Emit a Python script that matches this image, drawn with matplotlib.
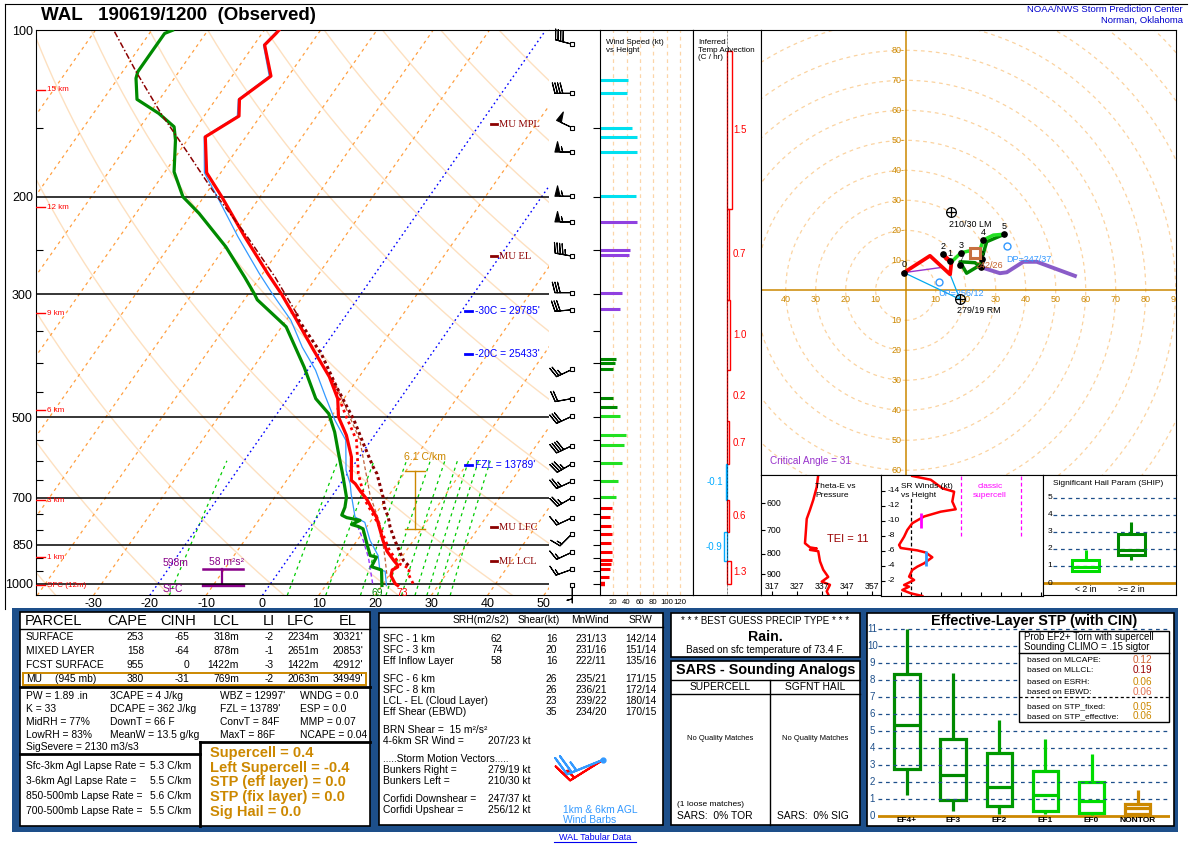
#!/usr/bin/env python
import numpy as np
import matplotlib
matplotlib.use("Agg")
import matplotlib.pyplot as plt
from matplotlib.patches import Rectangle, Circle
from matplotlib.ticker import FixedLocator, NullFormatter
from matplotlib.transforms import blended_transform_factory

plt.rcParams['font.family'] = ['Liberation Sans', 'DejaVu Sans']
plt.rcParams['axes.unicode_minus'] = False

# --- Layout (pixels of the 1192x846 picture) ---
W, H = 1192, 846
SK_X0, SK_X1, SK_Y0, SK_Y1 = 35.6, 549.0, 30.3, 595.3
P_BOT, P_TOP = 1050.0, 100.0
SKEW = 29.9            # deg C of skew per ln(p)
T_LEFT, T_RIGHT = -40.3, 50.9

RED = '#ff0000'
DGREEN = '#008a00'
LIME = '#22e022'
MAROON = '#8b0000'
GOLD = '#cc8800'
PURPLE = '#880088'
VIOLET = '#9040e0'
CYAN = '#00e0f0'
LBLUE = '#3399ff'
NAVY = '#1d4f8a'

# --- Sounding profiles ---
P_TEMP = [100, 101.3, 106.3, 121, 133.3, 142.9, 155.8, 180.9, 200, 236, 275.2, 299.2, 329.6,
          378.7, 423, 463.2, 499.7, 539.5, 590.6, 651, 660, 682.7, 703, 758, 836, 873.5, 910,
          925, 933, 945, 968, 1000, 1008]
TEMP = [-67.4, -67.5, -68.1, -63.1, -65.8, -63.8, -67.2, -62.5, -56.8, -47.8, -39.1, -34.2, -28.9,
        -21.4, -15.3, -11.1, -8.7, -5.0, -1.4, 1.5, 2.6, 4.6, 6.5, 10.5, 14.6, 16.6, 19.1,
        20.2, 20.5, 19.9, 20.4, 22.1, 22.8]

P_DWPT = [100, 101.3, 118.8, 122.1, 133.3, 141.3, 149.4, 157.9, 180.2, 200, 214.2, 246.1, 279.1,
          299.2, 306.9, 334, 343.5, 406.1, 463.2, 493.3, 532.1, 582.4, 633.1, 697.7, 728, 752,
          760, 768.6, 782, 788.7, 796.3, 852.7, 890, 895.8, 932, 945, 1008]
DWPT = [-86.3, -87.3, -87.3, -86.8, -84.0, -78.4, -74.0, -72.1, -68.4, -63.7, -58.8, -49.9, -42.8,
        -39.0, -37.7, -31.3, -29.2, -21.0, -15.0, -10.8, -7.5, -4.1, -0.9, 2.7, 3.7, 4.1,
        5.3, 8.0, 7.0, 8.5, 9.6, 12.4, 14.2, 15.5, 15.8, 18.0, 20.0]

P_WETB = [100, 106.3, 121, 133.3, 142.9, 155.8, 180.9, 200, 236, 275.2, 299.2, 334.1, 373.9,
          411.3, 459.6, 506.9, 550.6, 624.3, 660, 687.8, 758, 775, 836, 890, 945, 950, 1008]
WETB = [-67.6, -68.3, -63.4, -66.0, -64.1, -67.4, -62.9, -57.6, -49.0, -40.6, -35.8, -29.2, -23.8,
        -18.6, -13.5, -8.9, -4.5, -0.7, 1.7, 3.1, 6.7, 9.1, 12.3, 15.6, 17.7, 18.8, 20.8]

P_MU = [100.6, 118.8, 141.3, 166.9, 194.5, 233, 279.1, 325, 334.1, 384.3, 441.7, 506.9, 557.9,
        615.6, 633, 697.7, 728, 758, 790.8, 836, 858.4, 909.9, 932]
T_MU = [-96.4, -87.6, -78.0, -68.2, -59.3, -48.1, -37.4, -29.0, -27.8, -19.6, -12.7, -5.5, -1.0,
        3.7, 5.2, 9.2, 10.7, 12.6, 14.2, 16.7, 18.0, 20.8, 22.6]

P_SBPCL = [1000, 960, 938.5, 922, 873.5, 790.8, 707, 633, 550.6, 499.7, 459.6, 423]
T_SBPCL = [25.3, 23.2, 22.8, 20.5, 17.1, 12.4, 6.4, 1.9, -2.6, -7.3, -11.2, -15.0]

P_VPCL = [960, 895.8, 780, 693, 550.6, 432.4]
T_VPCL = [19.4, 17.0, 12.0, 6.7, -2.0, -13.7]

P_DCAPE = [766, 836, 899, 1008]
T_DCAPE = [7.0, 11.1, 14.2, 18.4]

MIX_RATIOS = [1, 5, 8, 12, 16, 19, 22, 25, 28, 32]

HGT_LBL = ['15 km', '12 km', '9 km', '6 km', '3 km', '1 km', 'SFC (12m)']
HGT_P = [128.2, 208.7, 324.5, 485.9, 706.7, 895.8, 1008]

LVL_LBL = ['MU MPL', 'MU EL', 'MU LFC', 'ML LCL']
LVL_P = [147.7, 256, 791, 911]
ISO_LBL = ["-30C = 29785'", "-20C = 25433'", "FZL = 13789'"]
ISO_P = [321, 385, 611]

# --- Wind barbs ---
BARB_P = [106, 130, 150, 166, 199.5, 222, 256, 298, 320, 410, 463, 498, 563, 607, 653, 699,
          760, 812, 877, 942, 1008]
BARB_DIR = [285, 270, 295, 270, 270, 270, 280, 270, 265, 245, 260, 245, 245, 240, 245, 240,
            245, 225, 245, 250, 180]
BARB_KT = [40, 40, 50, 55, 55, 55, 45, 32, 30, 23, 19, 29, 38, 33, 27, 24, 17, 17, 17, 14, 5]

# --- Wind speed vs height ---
WS_P = [123, 130, 150, 156, 166, 199, 222, 249, 255, 298, 319, 392, 399, 409, 461, 479, 497,
        538, 561, 605, 652, 697, 730, 758, 787, 813, 846, 877, 908, 922, 941, 972, 1000]
WS_KT = [42, 40, 47.5, 55, 55, 53.5, 55, 44.5, 43, 32.5, 29.5, 23.5, 22, 19, 19, 25, 29.5,
         38.5, 35.5, 32.5, 26.5, 23.5, 17.5, 14.5, 16, 17.5, 16, 17.5, 17.5, 16, 14.5, 13, 7]

# --- Inferred temperature advection ---
ADV_PTOP = [109, 210, 307, 411, 509, 608, 707, 807, 911]
ADV_PBOT = [210, 307, 411, 509, 608, 707, 807, 911, 1000]
ADV_VAL = [1.5, 0.7, 1.0, 0.2, 0.7, -0.1, 0.6, -0.9, 1.3]

# --- Hodograph (kt) ---
HODO_03_U = [-0.6, 8.1, 14.8, 15.2, 14.8, 12.3, 13.5, 15.2]
HODO_03_V = [5.9, 11.5, 5.3, 8.9, 9.8, 12.1, 10.5, 9.4]
HODO_36_U = [15.2, 18.4, 22.4, 24.8, 25.9, 29.2, 32.9]
HODO_36_V = [9.4, 12.5, 13.4, 13.7, 16.8, 18.4, 18.7]
HODO_69_U = [32.9, 27.0, 25.3, 24.8, 20.3, 18.1, 23.1, 25.1]
HODO_69_V = [18.7, 16.2, 10.3, 8.4, 5.7, 9.5, 9.2, 7.7]
HODO_912_U = [25.1, 31.4, 33.7, 39.2, 43.7, 56.4]
HODO_912_V = [7.7, 5.7, 6.0, 9.5, 9.5, 4.8]
HODO_DOT_U = [-0.6, 14.8, 12.3, 18.4, 25.9, 32.9, 25.3, 18.1, 25.1]
HODO_DOT_V = [5.9, 9.8, 12.1, 12.5, 16.8, 18.7, 10.3, 8.5, 7.7]
HODO_DOT_LBL = ['0', '1', '2', '3', '4', '5', '6', '7', '8']
RM_UV = (18.1, -3.0)
LM_UV = (15.1, 26.0)
DP_UV = (33.7, 14.8)
UP_UV = (11.2, 2.9)
MEAN_UV = (23.1, 12.3)
INFLOW_TOP_UV = (14.8, 5.3)
SHEAR500_UV = (12.5, 7.7)

# --- Theta-E vs pressure ---
P_THE = [510.7, 547, 589, 623, 656, 698, 754, 772, 777, 783, 789, 836, 877, 914, 939, 956, 992, 1010]
THETAE = [335.6, 335.0, 333.6, 332.3, 331.0, 330.7, 330.3, 332.3, 335.0, 332.3, 335.6, 336.3,
          337.6, 339.6, 337.0, 340.3, 339.0, 339.6]

# --- Storm-relative winds vs height ---
SR_KM = [0, 0.36, 0.8, 1.24, 1.47, 2.13, 2.58, 3.47, 3.91, 4.36, 5.16, 5.8, 6.08, 6.4, 6.8, 7.9,
         8.8, 9.7, 10.6, 11.24, 11.56, 12.6, 13.9, 14.36, 15.5, 16.0]
SR_KT = [20.8, 15, 10.8, 14.2, 11.7, 16.7, 14.2, 15.8, 18.3, 21.7, 25.8, 22.5, 18.3, 10, 9.2, 11.7,
         13.3, 15.8, 21.7, 30, 37.5, 35.8, 36.7, 30.8, 25, 15.8]

# --- SHIP box plots (min, q1, median, q3, max) ---
SHIP_CATS = ['< 2 in', '>= 2 in']
SHIP_BOX = [[0.71, 0.71, 0.96, 1.38, 1.96], [1.38, 1.67, 1.93, 2.9, 3.59]]

# --- Effective-layer STP box plots ---
STP_CATS = ['EF4+', 'EF3', 'EF2', 'EF1', 'EF0', 'NONTOR']
STP_BOX = [[1.27, 2.78, 5.38, 8.36, 11.0],
           [0.29, 0.98, 2.45, 4.56, 8.41],
           [0.16, 0.63, 1.72, 3.72, 5.64],
           [0.16, 0.33, 1.27, 2.68, 4.54],
           [0.10, 0.20, 0.88, 2.02, 3.68],
           [0.00, 0.16, 0.49, 0.74, 1.57]]
STP_COLORS = ['#008a00', '#008a00', '#009a00', '#00cc00', '#00dd00', GOLD]

# --- Parcel table ---
PCL_NAMES = ['SURFACE', 'MIXED LAYER', 'FCST SURFACE', 'MU']
PCL_CAPE = [253, 158, 955, 380]
PCL_CINH = [-65, -64, 0, -31]
PCL_LCL = ['318m', '878m', '1422m', '769m']
PCL_LI = [-2, -1, -3, -2]
PCL_LFC = ['2234m', '2651m', '1422m', '2063m']
PCL_EL = ["30321'", "20853'", "42912'", "34949'"]

IDX_COL1 = ['PW = 1.89 .in', 'K = 33', 'MidRH = 77%', 'LowRH = 83%', 'SigSevere = 2130 m3/s3']
IDX_COL2 = ['3CAPE = 4 J/kg', 'DCAPE = 362 J/kg', 'DownT = 66 F', 'MeanW = 13.5 g/kg']
IDX_COL3 = ["WBZ = 12997'", "FZL = 13789'", 'ConvT = 84F', 'MaxT = 86F']
IDX_COL4 = ['WNDG = 0.0', 'ESP = 0.0', 'MMP = 0.07', 'NCAPE = 0.04']
LAPSE_LBL = ['Sfc-3km Agl Lapse Rate =', '3-6km Agl Lapse Rate =',
             '850-500mb Lapse Rate =', '700-500mb Lapse Rate =']
LAPSE_VAL = ['5.3 C/km', '5.5 C/km', '5.6 C/km', '5.5 C/km']
COMPOSITES = ['Supercell = 0.4', 'Left Supercell = -0.4', 'STP (eff layer) = 0.0',
              'STP (fix layer) = 0.0', 'Sig Hail = 0.0']

KIN_LBL = ['SFC - 1 km', 'SFC - 3 km', 'Eff Inflow Layer', 'SFC - 6 km', 'SFC - 8 km',
           'LCL - EL (Cloud Layer)', 'Eff Shear (EBWD)']
KIN_SRH = ['62', '74', '58', '', '', '', '']
KIN_SHEAR = ['16', '20', '16', '26', '26', '23', '35']
KIN_MNW = ['231/13', '231/16', '222/11', '235/21', '236/21', '239/22', '234/20']
KIN_SRW = ['142/14', '151/14', '135/16', '171/15', '172/14', '180/14', '170/15']
MOTION_LBL = ['Bunkers Right =', 'Bunkers Left =', 'Corfidi Downshear =', 'Corfidi Upshear =']
MOTION_VAL = ['279/19 kt', '210/30 kt', '247/37 kt', '256/12 kt']
ICON_DIR = [238, 248]        # 1 km and 6 km AGL winds
ICON_KT = [15, 25]

STP_PROB_LBL = ['based on MLCAPE:', 'based on MLLCL:', 'based on ESRH:', 'based on EBWD:',
                'based on STP_fixed:', 'based on STP_effective:']
STP_PROB_VAL = ['0.12', '0.19', '0.06', '0.06', '0.05', '0.06']
STP_PROB_COL = ['#d06030', '#990000', GOLD, '#e07050', GOLD, GOLD]


def skx(t, p):
    return np.asarray(t, float) + SKEW * np.log(P_BOT / np.asarray(p, float))


def hcolor(p):
    if p >= HGT_P[4]:
        return RED
    if p >= HGT_P[3]:
        return LIME
    if p >= HGT_P[2]:
        return DGREEN
    if p >= HGT_P[1]:
        return VIOLET
    return CYAN


def uv(direction, speed):
    d = np.radians(np.asarray(direction, float))
    s = np.asarray(speed, float)
    return -s * np.sin(d), -s * np.cos(d)


fig = plt.figure(figsize=(W / 100, H / 100), dpi=100)


def px_axes(x0, y0, x1, y1, **kw):
    return fig.add_axes([x0 / W, 1 - y1 / H, (x1 - x0) / W, (y1 - y0) / H], **kw)


def pix_overlay():
    a = fig.add_axes([0, 0, 1, 1])
    a.set_xlim(0, W)
    a.set_ylim(H, 0)
    a.axis('off')
    return a


def log_p(a):
    a.set_yscale('log')
    a.set_ylim(P_BOT, P_TOP)
    a.yaxis.set_major_locator(FixedLocator([]))
    a.yaxis.set_minor_locator(FixedLocator([]))
    a.yaxis.set_minor_formatter(NullFormatter())


# ================= background: frames and tables =================
bg = pix_overlay()
bg.plot([4.6, 1187], [4.5, 4.5], color='k', lw=0.8)
bg.plot([4.6, 4.6], [4.5, 609], color='k', lw=0.8)
bg.text(41, 16, 'WAL   190619/1200  (Observed)', fontsize=13.5, fontweight='bold', va='center')
bg.text(1183, 9, 'NOAA/NWS Storm Prediction Center', color='#0000cc', fontsize=6.8, ha='right', va='center')
bg.text(1183, 20, 'Norman, Oklahoma', color='#0000cc', fontsize=6.8, ha='right', va='center')

bg.add_patch(Rectangle((12, 608), 1166, 224, facecolor=NAVY, edgecolor='none'))
for (x0, y0, x1, y1) in [(20, 612, 370, 826), (379, 613, 663.3, 825.3), (671, 613, 860, 657.3),
                         (671, 660.7, 860, 825.3), (867, 613, 1173.7, 826)]:
    bg.add_patch(Rectangle((x0, y0), x1 - x0, y1 - y0, facecolor='white', edgecolor='k', lw=1.2))

# parcel table
hdr_kw = dict(fontsize=10.5, va='center')
bg.text(25, 620.7, 'PARCEL', **hdr_kw)
for lbl, xc in zip(['CAPE', 'CINH', 'LCL', 'LI', 'LFC', 'EL'], [127.5, 178, 226, 269, 300.5, 348]):
    bg.text(xc, 620.7, lbl, ha='center', **hdr_kw)
bg.plot([20, 370], [628.7, 628.7], color='k', lw=1)
row_y = [637.3, 651.3, 665.3, 679]
for i, y in enumerate(row_y):
    bg.text(25.7, y, PCL_NAMES[i], fontsize=7.4, va='center')
    bg.text(144, y, str(PCL_CAPE[i]), fontsize=7.4, va='center', ha='right')
    bg.text(189, y, str(PCL_CINH[i]), fontsize=7.4, va='center', ha='right')
    bg.text(239, y, PCL_LCL[i], fontsize=7.4, va='center', ha='right')
    bg.text(274, y, str(PCL_LI[i]), fontsize=7.4, va='center', ha='right')
    bg.text(319, y, PCL_LFC[i], fontsize=7.4, va='center', ha='right')
    bg.text(363, y, PCL_EL[i], fontsize=7.4, va='center', ha='right')
bg.text(55, row_y[3], '(945 mb)', fontsize=7.4, va='center')
bg.add_patch(Rectangle((23.3, 673), 342.7, 12.3, facecolor='none', edgecolor=GOLD, lw=1.4))
bg.plot([20, 370], [687, 687], color='k', lw=2)
idx_y = [696.3, 709, 722, 735.3, 747.5]
for col, xc in zip([IDX_COL1, IDX_COL2, IDX_COL3, IDX_COL4], [25.7, 110, 220, 300]):
    for s, y in zip(col, idx_y):
        bg.text(xc, y, s, fontsize=7.4, va='center')
bg.plot([20, 200], [754.5, 754.5], color='k', lw=2)
bg.plot([200, 370], [742, 742], color='k', lw=2)
bg.plot([200, 200], [742, 826], color='k', lw=2)
for s, v, y in zip(LAPSE_LBL, LAPSE_VAL, [766.3, 781.3, 796.3, 811.3]):
    bg.text(25.7, y, s, fontsize=7.4, va='center')
    bg.text(150, y, v, fontsize=7.4, va='center')
for s, y in zip(COMPOSITES, [753.3, 768, 782.3, 797.3, 812]):
    bg.text(210, y, s, fontsize=10.5, fontweight='bold', color=GOLD, va='center')

# kinematics table
for lbl, xc in zip(['SRH(m2/s2)', 'Shear(kt)', 'MnWind', 'SRW'], [481, 538.5, 590.5, 640]):
    bg.text(xc, 619.7, lbl, fontsize=7.4, ha='center', va='center')
bg.plot([379, 663.3], [627, 627], color='k', lw=1)
for i, y in enumerate([639, 650, 661, 679, 690, 701, 712]):
    bg.text(383.3, y, KIN_LBL[i], fontsize=7.4, va='center')
    bg.text(496.7, y, KIN_SRH[i], fontsize=7.4, va='center', ha='center')
    bg.text(551.7, y, KIN_SHEAR[i], fontsize=7.4, va='center', ha='center')
    bg.text(591, y, KIN_MNW[i], fontsize=7.4, va='center', ha='center')
    bg.text(641, y, KIN_SRW[i], fontsize=7.4, va='center', ha='center')
bg.text(383.3, 730, 'BRN Shear =  15 m²/s²', fontsize=7.4, va='center')
bg.text(383.3, 741, '4-6km SR Wind =', fontsize=7.4, va='center')
bg.text(487.7, 741, '207/23 kt', fontsize=7.4, va='center')
bg.text(383.3, 759, '.....Storm Motion Vectors.....', fontsize=7.4, va='center')
for s, v, y in zip(MOTION_LBL, MOTION_VAL, [770.3, 781.3, 799.3, 810]):
    bg.text(383.3, y, s, fontsize=7.4, va='center')
    bg.text(487.7, y, v, fontsize=7.4, va='center')
bg.text(563.3, 810, '1km & 6km AGL', fontsize=7.4, va='center', color=LBLUE)
bg.text(563.3, 820, 'Wind Barbs', fontsize=7.4, va='center', color=LBLUE)

# precip type and SARS
bg.text(765.5, 620.7, '* * * BEST GUESS PRECIP TYPE * * *', fontsize=7, ha='center', va='center')
bg.text(765.5, 637, 'Rain.', fontsize=10.2, fontweight='bold', ha='center', va='center')
bg.text(765.5, 649.7, 'Based on sfc temperature of 73.4 F.', fontsize=7.2, ha='center', va='center')
bg.text(765.5, 670, 'SARS - Sounding Analogs', fontsize=10.4, fontweight='bold', ha='center', va='center')
bg.plot([671, 860], [679.7, 679.7], color='k', lw=1)
bg.plot([671, 860], [693.7, 693.7], color='k', lw=1)
bg.plot([770, 770], [679.7, 825.3], color='k', lw=1)
bg.text(720.5, 687.3, 'SUPERCELL', fontsize=7.4, ha='center', va='center')
bg.text(815, 687.3, 'SGFNT HAIL', fontsize=7.4, ha='center', va='center')
bg.text(720.5, 738, 'No Quality Matches', fontsize=5.4, ha='center', va='center')
bg.text(815, 738, 'No Quality Matches', fontsize=5.4, ha='center', va='center')
bg.text(676.7, 804.7, '(1 loose matches)', fontsize=6, va='center')
bg.text(676.7, 816.3, 'SARS:  0% TOR', fontsize=7.4, va='center')
bg.text(776.7, 816.3, 'SARS:  0% SIG', fontsize=7.4, va='center')

# STP panel title and link
bg.text(1033.7, 621.3, 'Effective-Layer STP (with CIN)', fontsize=10.4, fontweight='bold',
        ha='center', va='center')
bg.text(595, 837.3, 'WAL Tabular Data', fontsize=6.5, color='#0000ee', ha='center', va='center')
bg.plot([554, 636], [842.5, 842.5], color='#0000ee', lw=0.8)

# ================= Skew-T =================
ax = px_axes(SK_X0, SK_Y0, SK_X1, SK_Y1)
ax.set_yscale('log')
ax.set_ylim(P_BOT, P_TOP)
ax.set_xlim(T_LEFT, T_RIGHT)
pp = np.geomspace(P_BOT, P_TOP, 200)
for th in range(-40, 240, 20):
    tt = (th + 273.15) * (pp / 1000.0) ** 0.286 - 273.15
    ax.plot(skx(tt, pp), pp, color='#fde0c0', lw=1.0, zorder=1)
for t0 in range(-160, 60, 10):
    if t0 in (0, -20):
        ax.plot(skx(np.full_like(pp, t0), pp), pp, color='#0000ff', lw=1.0,
                ls=(0, (1.2, 2.2)), zorder=2)
    else:
        ax.plot(skx(np.full_like(pp, t0), pp), pp, color='#ff9f40', lw=0.9,
                ls=(0, (2.5, 3)), zorder=1)
pm = np.geomspace(1050, 600, 60)
for w in MIX_RATIOS:
    e = w * pm / (622.0 + w)
    lg = np.log(e / 6.112)
    td = 243.5 * lg / (17.67 - lg)
    ax.plot(skx(td, pm), pm, color='#00cc00', lw=0.9, ls=(0, (2.5, 3)), zorder=1)
for p in [200, 300, 500, 700, 850, 1000]:
    ax.axhline(p, color='k', lw=1.1, zorder=3)

ax.yaxis.set_major_locator(FixedLocator([100, 200, 300, 500, 700, 850, 1000]))
ax.set_yticklabels(['100', '200', '300', '500', '700', '850', '1000'])
ax.yaxis.set_minor_locator(FixedLocator([150, 250, 350, 400, 450, 550, 600, 650, 750, 800, 900, 950]))
ax.yaxis.set_minor_formatter(NullFormatter())
ax.tick_params(axis='y', which='major', length=0, labelsize=9, pad=2)
ax.tick_params(axis='y', which='minor', direction='in', length=5, width=0.8)
ax.set_xticks(range(-30, 51, 10))
ax.set_xticklabels([str(t) for t in range(-30, 51, 10)])
ax.tick_params(axis='x', length=0, labelsize=9, pad=2)
ax.spines['right'].set_visible(False)

ax.plot(skx(WETB, P_WETB), P_WETB, color=LBLUE, lw=0.9, zorder=5)
ax.plot(skx(T_DCAPE, P_DCAPE), P_DCAPE, color='#9933ff', lw=1.0, ls=(0, (3, 2)), zorder=5)
ax.plot(skx(T_VPCL, P_VPCL), P_VPCL, color='#c0603a', lw=0.9, ls=(0, (3, 2)), zorder=5)
ax.plot(skx(DWPT, P_DWPT), P_DWPT, color=DGREEN, lw=2.3, zorder=6)
ax.plot(skx(TEMP, P_TEMP), P_TEMP, color=RED, lw=2.3, zorder=7)
pmu = np.array(P_MU)
tmu = np.array(T_MU)
lo = pmu >= 325
hi = pmu <= 325
ax.plot(skx(tmu[lo], pmu[lo]), pmu[lo], color=MAROON, lw=2.2, ls=(0, (1, 1)), zorder=8)
ax.plot(skx(tmu[hi], pmu[hi]), pmu[hi], color=MAROON, lw=1.1, ls=(0, (4, 1.5, 1, 1.5)), zorder=8)
ax.plot(skx(T_SBPCL, P_SBPCL), P_SBPCL, color=RED, lw=2.0, ls=(0, (1, 1.3)), zorder=8)

tr = blended_transform_factory(ax.transAxes, ax.transData)
for lbl, p in zip(HGT_LBL, HGT_P):
    ax.plot([0, 0.019], [p, p], transform=tr, color=RED, lw=1, zorder=9)
    ax.text(0.022, p, lbl, transform=tr, color=RED, fontsize=5.8, va='center', zorder=9)
for lbl, p in zip(LVL_LBL, LVL_P):
    ax.plot([0.887, 0.899], [p, p], transform=tr, color=MAROON, lw=2, zorder=9)
    ax.text(0.902, p, lbl, transform=tr, color=MAROON, fontsize=7.6, va='center',
            family=['Liberation Serif', 'DejaVu Serif'], zorder=9)
for lbl, p in zip(ISO_LBL, ISO_P):
    ax.plot([0.837, 0.850], [p, p], transform=tr, color='#0000ff', lw=2, zorder=9)
    ax.text(0.855, p, lbl, transform=tr, color='#0000ff', fontsize=7.4, va='center', zorder=9)
# 700-500 lapse-rate bracket and effective inflow layer
ax.plot([0.739, 0.739], [626, 797], transform=tr, color=GOLD, lw=1)
ax.plot([0.7195, 0.7585], [626, 626], transform=tr, color=GOLD, lw=1)
ax.plot([0.7195, 0.7585], [797, 797], transform=tr, color=GOLD, lw=1)
ax.text(0.759, 591, '6.1 C/km', transform=tr, color=GOLD, fontsize=7.6, ha='center', va='center')
ax.plot([0.363, 0.363], [942, 1008], transform=tr, color=PURPLE, lw=1.6)
ax.plot([0.326, 0.404], [942, 942], transform=tr, color=PURPLE, lw=1.8)
ax.plot([0.326, 0.404], [1008, 1008], transform=tr, color=PURPLE, lw=2.4)
ax.text(0.2726, 919, '598m', transform=tr, color=PURPLE, fontsize=7.4, ha='center', va='center')
ax.text(0.371, 915, '58 m²s²', transform=tr, color=PURPLE, fontsize=7.4, ha='center', va='center')
ax.text(0.268, 1024, 'SFC', transform=tr, color=PURPLE, fontsize=7.4, ha='center', va='center')
ax.text(0.665, 1041, '69', transform=tr, color=DGREEN, fontsize=7.4, ha='center', va='center')
ax.text(0.714, 1041, '73', transform=tr, color=RED, fontsize=7.4, ha='center', va='center')

# ================= wind barbs =================
bax = px_axes(SK_X1, SK_Y0, 600, SK_Y1)
log_p(bax)
bax.set_xlim(0, 51)
bax.set_xticks([])
bax.spines['left'].set_visible(False)
bax.spines['right'].set_visible(False)
bu, bv = uv(BARB_DIR, BARB_KT)
bx = np.full(len(BARB_P), 23.3)
bax.barbs(bx, BARB_P, bu, bv, length=5.0, lw=0.8, clip_on=False,
          sizes=dict(spacing=0.15, height=0.6, width=0.3, emptybarb=0.0))
bax.plot(bx, BARB_P, 's', ms=2.6, mfc='white', mec='k', mew=0.8, clip_on=False, zorder=5)

# ================= wind speed vs height =================
wax = px_axes(600, SK_Y0, 693, SK_Y1)
log_p(wax)
wax.set_xlim(0, 139.5)
for s in range(20, 121, 20):
    wax.axvline(s, color='#fcd5a8', lw=0.9, ls=(0, (3, 3)))
for p, s in zip(WS_P, WS_KT):
    wax.hlines(p, 0, s, color=hcolor(p), lw=2.2 if p < 1000 else 3.2)
wax.yaxis.set_minor_locator(FixedLocator(list(range(150, 1001, 50))))
wax.tick_params(axis='y', which='minor', direction='out', length=5, width=0.8)
wax.set_xticks(range(20, 121, 20))
wax.set_xticklabels(['20', '40', '60', '80', '100', '120'])
wax.tick_params(axis='x', length=0, labelsize=5.6, pad=3)
wax.text(0.06, 0.985, 'Wind Speed (kt)\nvs Height', transform=wax.transAxes, fontsize=5.8,
         va='top', linespacing=1.3)

# ================= temperature advection =================
tax = px_axes(693, SK_Y0, 761, SK_Y1)
log_p(tax)
tax.set_xlim(-15.3, 15.6)
tax.set_xticks([])
tax.axvline(0, color='k', lw=0.5, ls=(0, (1, 1)))
for pt, pb, v in zip(ADV_PTOP, ADV_PBOT, ADV_VAL):
    col = RED if v >= 0 else '#00aaff'
    tax.add_patch(Rectangle((min(0, v * 1.5), pt), abs(v) * 1.5, pb - pt, facecolor='none',
                            edgecolor=col, lw=1.0))
    pc = np.sqrt(pt * pb)
    if v >= 0:
        tax.text(2.8, pc, f'{v:.1f}', color=col, fontsize=7, va='center')
    else:
        tax.text(-1.8, pc, f'{v:.1f}', color=col, fontsize=7, va='center', ha='right')
tax.text(0.07, 0.985, 'Inferred\nTemp Advection\n(C / hr)', transform=tax.transAxes, fontsize=5.8,
         va='top', linespacing=1.15)

# ================= hodograph =================
hax = px_axes(761, SK_Y0, 1175.7, 475)
hax.set_xlim(-48.23, 90)
hax.set_ylim(-61.57, 86.67)
hax.set_xticks([])
hax.set_yticks([])
for r in range(10, 160, 10):
    hax.add_patch(Circle((0, 0), r, fill=False, edgecolor='#fbd3a0', lw=0.9, ls=(0, (3, 3))))
hax.axhline(0, color=GOLD, lw=1.1)
hax.axvline(0, color=GOLD, lw=1.1)
for u in list(range(-40, 0, 10)) + list(range(10, 100, 10)):
    hax.text(u, -3.2, str(abs(u)), color=GOLD, fontsize=6.5, ha='center', va='center', clip_on=True)
for v in range(10, 90, 10):
    hax.text(-0.4, v, f'{v}-', color=GOLD, fontsize=6.5, ha='right', va='center')
for v in range(-10, -70, -10):
    hax.text(-1.3, v, str(abs(v)), color=GOLD, fontsize=6.5, ha='right', va='center', clip_on=True)
hax.plot([HODO_03_U[0], RM_UV[0]], [HODO_03_V[0], RM_UV[1]], color='#00aaee', lw=0.9)
hax.plot([INFLOW_TOP_UV[0], RM_UV[0]], [INFLOW_TOP_UV[1], RM_UV[1]], color='#00aaee', lw=0.9)
hax.plot([HODO_03_U[0], SHEAR500_UV[0]], [HODO_03_V[0], SHEAR500_UV[1]], color='#9933cc', lw=1)
hax.text(DP_UV[0] - 0.3, DP_UV[1] - 4.6, 'DP=247/37', color=LBLUE, fontsize=6.5, va='center')
hax.text(UP_UV[0] - 0.3, UP_UV[1] - 3.9, 'UP=256/12', color=LBLUE, fontsize=6.5, va='center')
hax.plot(*DP_UV, 'o', ms=5, mfc='none', mec=LBLUE, mew=1)
hax.plot(*UP_UV, 'o', ms=5, mfc='none', mec=LBLUE, mew=1)
hax.plot(HODO_912_U, HODO_912_V, color='#8a5cc8', lw=2.8)
hax.plot(HODO_69_U, HODO_69_V, color='#008a00', lw=2.5)
hax.plot(HODO_36_U, HODO_36_V, color=LIME, lw=2.5)
hax.plot(HODO_03_U, HODO_03_V, color=RED, lw=2.7)
hax.plot(HODO_DOT_U, HODO_DOT_V, 'o', color='k', ms=3.8, zorder=6)
for u, v, s in zip(HODO_DOT_U[:6], HODO_DOT_V[:6], HODO_DOT_LBL[:6]):
    hax.text(u, v + 2.6, s, fontsize=6.5, ha='center', va='center', zorder=6)
for u, v, s in zip(HODO_DOT_U[6:], HODO_DOT_V[6:], HODO_DOT_LBL[6:]):
    hax.text(u + 0.4, v + 1.6, s, fontsize=5, ha='center', va='center', zorder=6)
hax.plot(*MEAN_UV, 's', ms=7.5, mfc='white', mec='#c87040', mew=2.2, zorder=7)
hax.text(MEAN_UV[0] + 0.3, MEAN_UV[1] - 4.2, '242/26', color='#c06030', fontsize=6.5, va='center',
         zorder=7)
for (mu, mv), lbl, dy in [(LM_UV, '210/30 LM', -3.9), (RM_UV, '279/19 RM', -3.9)]:
    hax.plot(mu, mv, 'o', ms=7, mfc='none', mec='k', mew=0.9, zorder=8)
    hax.plot(mu, mv, '+', ms=7, mec='k', mew=0.9, zorder=8)
    hax.text(mu + 6.3, mv + dy, lbl, fontsize=6.4, ha='center', va='center', zorder=8)
hax.text(0.022, 0.031, 'Critical Angle = 31', transform=hax.transAxes, color='#9933cc',
         fontsize=7.2, va='center')

# ================= theta-E vs pressure =================
eax = px_axes(761, 475, 880.7, 595.3)
eax.set_yscale('log')
eax.set_ylim(1015, 510.6)
eax.set_xlim(312.7, 360.6)
eax.yaxis.set_major_locator(FixedLocator([600, 700, 800, 900]))
eax.yaxis.set_minor_locator(FixedLocator([]))
eax.yaxis.set_major_formatter(NullFormatter())
eax.yaxis.set_minor_formatter(NullFormatter())
eax.set_xticks([317, 327, 337, 347, 357])
eax.set_xticklabels([])
eax.tick_params(direction='in', length=3, width=0.8)
eax.plot(THETAE, P_THE, color=RED, lw=1.8)
for p in [600, 700, 800, 900]:
    eax.text(315.0, p, str(p), fontsize=6.3, va='center')
for t in [317, 327, 337, 347, 357]:
    eax.text(t, 966.5, str(t), fontsize=6.3, ha='center', va='center')
eax.text(0.451, 0.933, 'Theta-E vs\nPressure', transform=eax.transAxes, fontsize=6,
         va='top', linespacing=1.35)
eax.text(0.727, 0.466, 'TEI = 11', transform=eax.transAxes, fontsize=8, color='#990000',
         ha='center', va='center')

# ================= storm-relative winds =================
sax = px_axes(880.7, 475, 1042.7, 596)
sax.set_xlim(0, 81)
sax.set_ylim(0, 16.13)
sax.set_xticks(range(10, 81, 10))
sax.set_xticklabels([])
sax.set_yticks(range(2, 16, 2))
sax.set_yticklabels([])
sax.tick_params(direction='in', length=3, width=0.8)
sax.vlines(15, 0, 13.2, color='k', lw=0.9, ls=(0, (3, 2)))
sax.vlines([40, 70], 8, 16.13, color='#ff00ff', lw=0.9, ls=(0, (3, 2)))
sax.plot(SR_KT, SR_KM, color=RED, lw=1.8)
sax.vlines(20, 9, 11, color='#ff00ff', lw=2)
sax.vlines(22.5, 4, 6, color=LBLUE, lw=2)
for h in range(2, 16, 2):
    sax.text(3.6, h, f'-{h}', fontsize=6, va='center')
sax.text(0.125, 0.933, 'SR Winds (kt)\nvs Height', transform=sax.transAxes, fontsize=6,
         va='top', linespacing=1.35)
sax.text(0.675, 0.933, 'classic\nsupercell', transform=sax.transAxes, fontsize=6,
         color='#ff00ff', ha='center', va='top', linespacing=1.35)

# ================= SHIP =================
shx = px_axes(1042.7, 475, 1175.7, 595.3)
shx.set_ylim(-0.72, 6.34)
shx.set_xlim(-0.94, 1.97)
shx.set_xticks([])
shx.set_yticks([])
for v in range(1, 6):
    shx.hlines(v, -0.72, 1.97, color=NAVY, lw=0.9, ls=(0, (3, 3)))
    shx.text(-0.786, v, str(v), fontsize=6, ha='center', va='center')
shx.text(-0.786, 0, '0', fontsize=6, ha='center', va='center')
shx.axhline(0, color=GOLD, lw=2)
for i, (b, c) in enumerate(zip(SHIP_BOX, ['#00dd00', '#008a00'])):
    hw = 0.29
    shx.add_patch(Rectangle((i - hw, b[1]), 2 * hw, b[3] - b[1], fill=False, edgecolor=c, lw=2.2))
    shx.hlines(b[2], i - hw, i + hw, color=c, lw=2.2)
    shx.vlines(i, b[3], b[4], color=c, lw=2.2)
    shx.vlines(i, b[0], b[1], color=c, lw=2.2)
    shx.text(i, -0.39, SHIP_CATS[i], fontsize=6.3, ha='center', va='center')
shx.text(0.49, 5.86, 'Significant Hail Param (SHIP)', fontsize=6, ha='center', va='center')

# ================= effective-layer STP =================
stp = px_axes(878, 613, 1170, 826, facecolor='none')
stp.set_ylim(-0.57, 11.94)
stp.set_xlim(-0.629, 5.7)
stp.axis('off')
for v in range(1, 12):
    stp.hlines(v, -0.629, 5.7, color=NAVY, lw=0.9, ls=(0, (3, 3)))
stp.hlines(0, -0.87, 5.7, color=GOLD, lw=2)
for i, (b, c) in enumerate(zip(STP_BOX, STP_COLORS)):
    hw = 0.275
    stp.add_patch(Rectangle((i - hw, b[1]), 2 * hw, b[3] - b[1], fill=False, edgecolor=c, lw=2.3))
    stp.hlines(b[2], i - hw, i + hw, color=c, lw=2.3)
    stp.vlines(i, b[3], b[4], color=c, lw=2.3)
    stp.vlines(i, b[0], b[1], color=c, lw=2.3)
    stp.text(i, -0.25, STP_CATS[i], fontsize=6, fontweight='bold', ha='center', va='center')

# ================= top layer: STP inset, barb icon =================
top = pix_overlay()
for v in range(0, 12):
    top.text(872.5, 816.3 - 17.03 * v, str(v), fontsize=7, ha='center', va='center', color=NAVY)
top.add_patch(Rectangle((1019.3, 630.7), 149.4, 91.6, facecolor='white', edgecolor='k', lw=1))
top.text(1024.3, 637.3, 'Prob EF2+ Torn with supercell', fontsize=7, va='center')
top.text(1024.3, 647.3, 'Sounding CLIMO = .15 sigtor', fontsize=7, va='center')
top.plot([1019.3, 1168.7], [653, 653], color='k', lw=1)
top.plot([1019.3, 1168.7], [697.3, 697.3], color='k', lw=0.9, ls=(0, (2.5, 2)))
for s, v, c, y in zip(STP_PROB_LBL, STP_PROB_VAL, STP_PROB_COL, [660.3, 670.3, 682, 692, 706.7, 716.3]):
    top.text(1027, y, s, fontsize=6, va='center')
    top.text(1133, y, v, fontsize=7.2, va='center', color=c)

iax = px_axes(545, 745, 615, 790)
iax.set_xlim(0, 70)
iax.set_ylim(0, 45)
iax.axis('off')
iu, iv = uv(ICON_DIR, ICON_KT)
iax.barbs([58.3, 58.3], [30.3, 30.3], iu, iv, color=[RED, LBLUE], length=7.5, lw=1.5,
          sizes=dict(spacing=0.13, height=0.5, width=0.25), clip_on=False)
iax.plot(58.3, 30.3, 'o', ms=3.5, color=LBLUE)

fig.savefig('out.png', dpi=100)
